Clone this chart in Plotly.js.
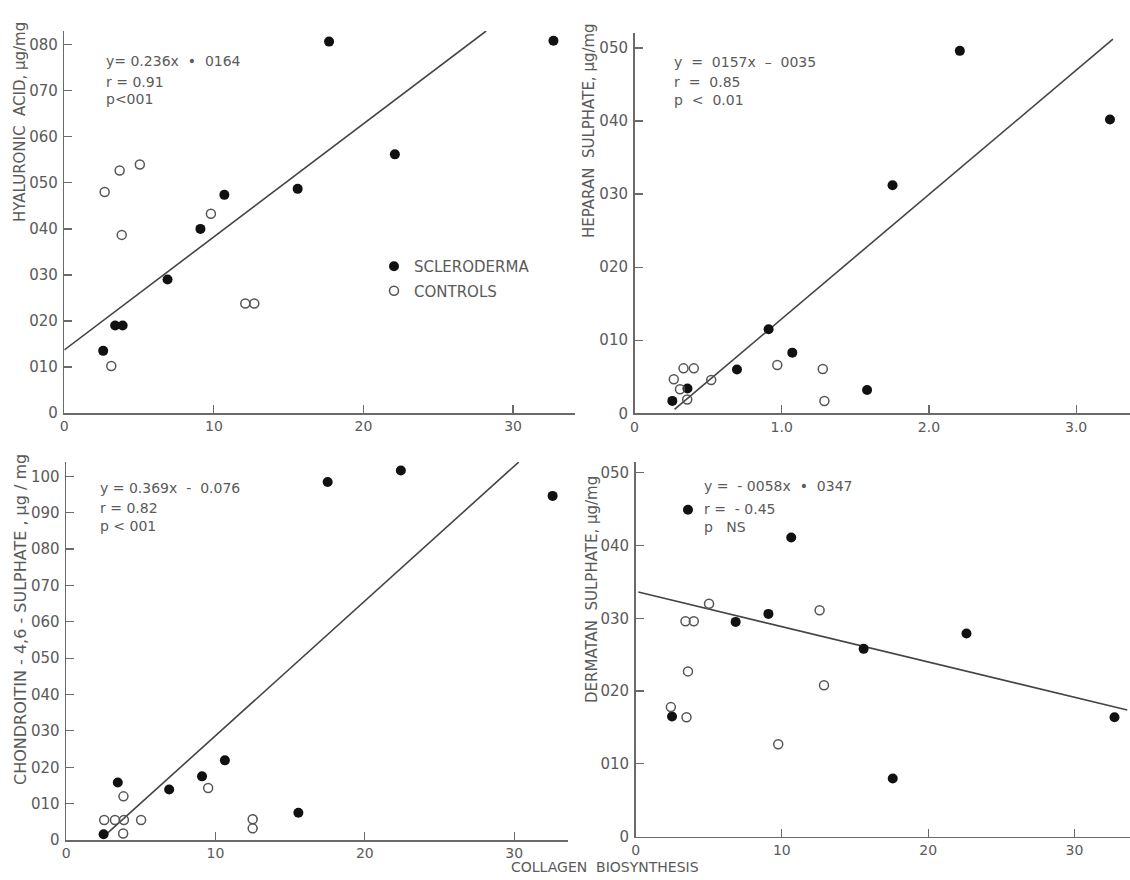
<!DOCTYPE html>
<html><head><meta charset="utf-8">
<script src="https://cdn.plot.ly/plotly-3.0.1.min.js"></script>
<style>html,body{margin:0;padding:0;background:#fff}</style>
</head><body><div id="chart" style="width:1130px;height:880px"></div>
<script>
// ---- tick labels ----
const xTickVals = [0, 1, 2, 3];
const xTickTextA = ["0", "10", "20", "30"];
const xTickTextB = ["0", "1.0", "2.0", "3.0"];
const yTickVals5 = [0, 0.1, 0.2, 0.3, 0.4, 0.5];
const yTickText5 = ["0", "010", "020", "030", "040", "050"];
const yTickVals8 = [0, 0.1, 0.2, 0.3, 0.4, 0.5, 0.6, 0.7, 0.8];
const yTickText8 = ["0", "010", "020", "030", "040", "050", "060", "070", "080"];
const yTickVals10 = [0, 0.1, 0.2, 0.3, 0.4, 0.5, 0.6, 0.7, 0.8, 0.9, 1.0];
const yTickText10 = ["0", "010", "020", "030", "040", "050", "060", "070", "080", "090", "100"];

// ---- Panel 1: Hyaluronic acid ----
const haSclX = [0.26, 0.34, 0.39, 0.69, 0.91, 1.07, 1.56, 1.77, 2.21, 3.27];
const haSclY = [0.135, 0.19, 0.19, 0.29, 0.40, 0.474, 0.487, 0.807, 0.562, 0.809];
const haCtlX = [0.27, 0.37, 0.505, 0.384, 0.314, 0.98, 1.21, 1.27];
const haCtlY = [0.48, 0.527, 0.54, 0.387, 0.102, 0.433, 0.238, 0.238];
const haFitX = [0, 2.82];
const haFitY = [0.137, 0.83];

// ---- Panel 2: Heparan sulphate ----
const hsSclX = [0.257, 0.36, 0.696, 0.911, 1.072, 1.58, 1.753, 2.21, 3.23];
const hsSclY = [0.017, 0.034, 0.060, 0.115, 0.083, 0.032, 0.312, 0.496, 0.402];
const hsCtlX = [0.267, 0.309, 0.333, 0.403, 0.358, 0.521, 0.97, 1.279, 1.29];
const hsCtlY = [0.0465, 0.033, 0.0615, 0.0615, 0.019, 0.0455, 0.066, 0.0606, 0.0168];
const hsFitX = [0.272, 3.25];
const hsFitY = [0.0055, 0.512];

// ---- Panel 3: Chondroitin 4,6 sulphate ----
const csSclX = [0.251, 0.346, 0.690, 0.910, 1.063, 1.555, 1.751, 2.241, 3.257];
const csSclY = [0.016, 0.158, 0.139, 0.175, 0.219, 0.075, 0.984, 1.016, 0.946];
const csCtlX = [0.255, 0.327, 0.387, 0.384, 0.382, 0.502, 0.951, 1.249, 1.249];
const csCtlY = [0.055, 0.055, 0.055, 0.120, 0.018, 0.055, 0.143, 0.057, 0.032];
const csFitX = [0.24, 3.03];
const csFitY = [0.005, 1.039];

// ---- Panel 4: Dermatan sulphate ----
const dsSclX = [0.249, 0.358, 0.684, 0.908, 1.064, 1.559, 1.758, 2.262, 3.274];
const dsSclY = [0.165, 0.449, 0.295, 0.306, 0.411, 0.258, 0.080, 0.279, 0.164];
const dsCtlX = [0.241, 0.341, 0.348, 0.358, 0.398, 0.502, 0.975, 1.258, 1.288];
const dsCtlY = [0.178, 0.296, 0.164, 0.227, 0.296, 0.320, 0.127, 0.311, 0.208];
const dsFitX = [0.018, 3.361];
const dsFitY = [0.336, 0.174];

const W = 1130, H = 880;
const FONT = "DejaVu Sans, sans-serif";
const GREY = "#5a5a5a";
const AXC = "#6a6a6a";
const px = v => v / W;
const py = v => 1 - v / H;

function panelTraces(xa, ya, sX, sY, cX, cY, fX, fY, legend) {
  return [
    {x: fX, y: fY, xaxis: xa, yaxis: ya, mode: "lines", type: "scatter",
     line: {color: "#444", width: 1.6}, showlegend: false, hoverinfo: "skip"},
    {x: sX, y: sY, xaxis: xa, yaxis: ya, mode: "markers", type: "scatter",
     name: "SCLERODERMA", legendgroup: "s", showlegend: legend,
     marker: {symbol: "circle", size: 10, color: "#111"}},
    {x: cX, y: cY, xaxis: xa, yaxis: ya, mode: "markers", type: "scatter",
     name: "CONTROLS", legendgroup: "c", showlegend: legend,
     marker: {symbol: "circle-open", size: 9, color: "#555", line: {width: 1.5, color: "#555"}}}
  ];
}

const data = [].concat(
  panelTraces("x", "y", haSclX, haSclY, haCtlX, haCtlY, haFitX, haFitY, true),
  panelTraces("x2", "y2", hsSclX, hsSclY, hsCtlX, hsCtlY, hsFitX, hsFitY, false),
  panelTraces("x3", "y3", csSclX, csSclY, csCtlX, csCtlY, csFitX, csFitY, false),
  panelTraces("x4", "y4", dsSclX, dsSclY, dsCtlX, dsCtlY, dsFitX, dsFitY, false)
);

function xAx(dom, rng, ticktext, anchor) {
  return {domain: dom, range: rng, anchor: anchor, tickvals: xTickVals, ticktext: ticktext,
    showgrid: false, zeroline: false, showline: true, linecolor: AXC, linewidth: 1.5,
    ticks: "inside", ticklen: 8, tickcolor: AXC, tickwidth: 1.2,
    tickfont: {family: FONT, size: 14, color: GREY}, fixedrange: true};
}
function yAx(dom, rng, tv, tt, anchor) {
  return {domain: dom, range: rng, anchor: anchor, tickvals: tv, ticktext: tt,
    showgrid: false, zeroline: false, showline: true, linecolor: AXC, linewidth: 1.5,
    ticks: "inside", ticklen: 8, tickcolor: AXC, tickwidth: 1.2, ticklabelstandoff: 2,
    tickfont: {family: FONT, size: 15, color: GREY}, fixedrange: true};
}

function txt(x, y, t, size, extra) {
  return Object.assign({xref: "paper", yref: "paper", x: px(x), y: py(y), text: t,
    showarrow: false, xanchor: "left", yanchor: "middle",
    font: {family: FONT, size: size || 14, color: GREY}}, extra || {});
}
function ytitle(x, y, t, size) {
  return {xref: "paper", yref: "paper", x: px(x), y: py(y), text: t, textangle: -90,
    showarrow: false, xanchor: "center", yanchor: "middle",
    font: {family: FONT, size: size || 15, color: GREY}};
}

const annotations = [
  txt(104, 61, "y= 0.236x  \u2022  0164"),
  txt(104, 82, "r = 0.91"),
  txt(104, 99, "p<001"),
  txt(672, 62, "y  =  0157x  \u2013  0035"),
  txt(672, 82, "r  =  0.85"),
  txt(672, 100, "p  <  0.01"),
  txt(98, 488, "y = 0.369x  -  0.076"),
  txt(98, 508, "r = 0.82"),
  txt(98, 526, "p < 001"),
  txt(702, 486, "y =  - 0058x  \u2022  0347"),
  txt(702, 509, "r =  - 0.45"),
  txt(702, 527, "p   NS"),
  ytitle(20, 122, "HYALURONIC  ACID, \u00b5g/mg"),
  ytitle(589, 131, "HEPARAN  SULPHATE, \u00b5g/mg"),
  ytitle(20, 620, "CHONDROITIN - 4,6 - SULPHATE , \u00b5g / mg", 16),
  ytitle(592, 590, "DERMATAN  SULPHATE, \u00b5g/mg"),
  {xref: "paper", yref: "paper", x: px(605), y: py(877), text: "COLLAGEN  BIOSYNTHESIS",
   showarrow: false, xanchor: "center", yanchor: "bottom",
   font: {family: FONT, size: 14, color: GREY}}
];

const layout = {
  width: W, height: H,
  margin: {l: 0, r: 0, t: 0, b: 0},
  paper_bgcolor: "#fff", plot_bgcolor: "rgba(0,0,0,0)",
  showlegend: true,
  legend: {x: px(374), y: py(250), xanchor: "left", yanchor: "top",
    bgcolor: "rgba(0,0,0,0)", font: {family: FONT, size: 15, color: GREY},
    tracegroupgap: 2, itemwidth: 30},
  xaxis:  xAx([px(64.3), px(575)], [0, 3.414], xTickTextA, "y"),
  yaxis:  yAx([py(413), py(31)], [0, 0.830], yTickVals8, yTickText8, "x"),
  xaxis2: xAx([px(634.5), 1], [0, 3.366], xTickTextB, "y2"),
  yaxis2: yAx([py(413.3), py(33.3)], [0, 0.520], yTickVals5, yTickText5, "x2"),
  xaxis3: xAx([px(66.1), px(568)], [0, 3.36], xTickTextA, "y3"),
  yaxis3: yAx([py(840), py(461.7)], [0, 1.04], yTickVals10, yTickText10, "x3"),
  xaxis4: xAx([px(635.6), 1], [0, 3.38], xTickTextA, "y4"),
  yaxis4: yAx([py(836.7), py(461.7)], [0, 0.515], yTickVals5, yTickText5, "x4"),
  annotations: annotations
};

Plotly.newPlot("chart", data, layout, {displayModeBar: false, staticPlot: true});
</script>
</body></html>
